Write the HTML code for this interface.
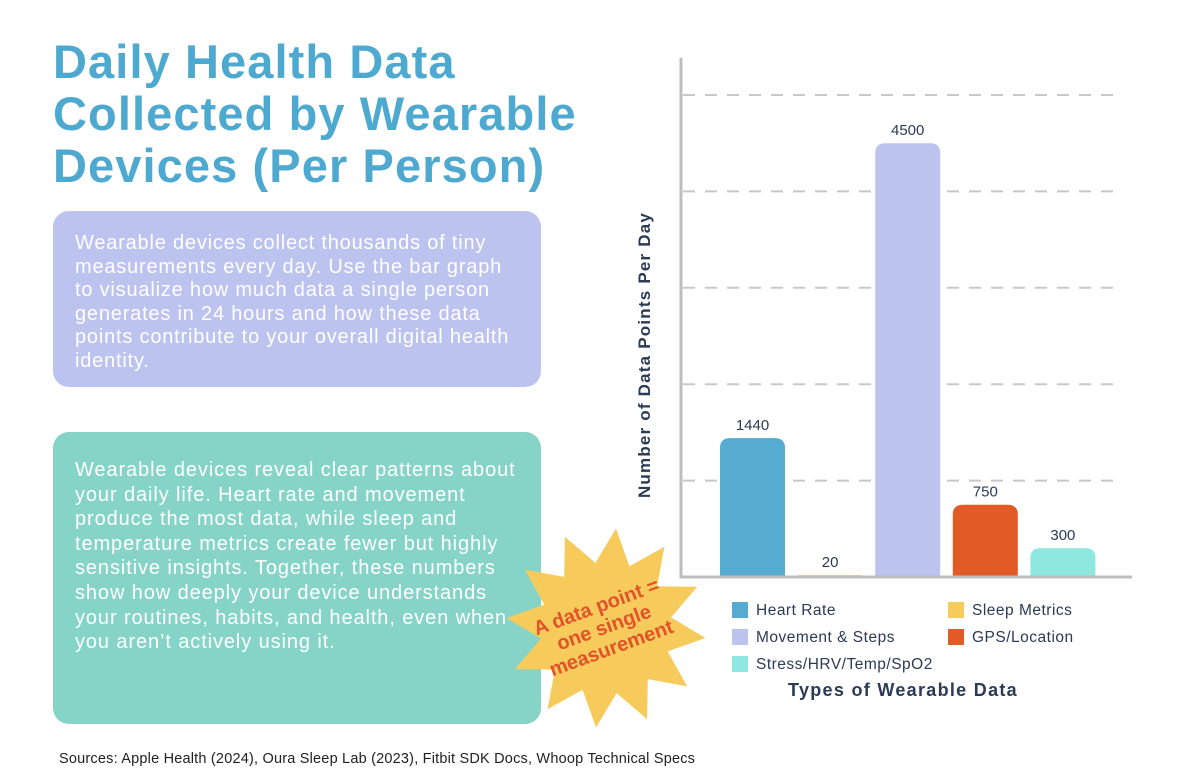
<!DOCTYPE html>
<html><head><meta charset="utf-8"><style>
body{margin:0;width:1200px;height:776px;background:#fff;font-family:"Liberation Sans",sans-serif;position:relative;overflow:hidden}
.title{position:absolute;left:53px;top:36px;font-size:47px;font-weight:bold;color:#4ea9d1;line-height:52px;letter-spacing:1.1px;white-space:nowrap}
.box{position:absolute;left:53px;width:488px;border-radius:16px;color:#fff;box-sizing:border-box;white-space:nowrap}
#b1{top:211px;height:176px;background:#bcc3ee;padding:21px 22px;font-size:20px;line-height:23.5px;letter-spacing:0.8px}
#b2{top:432px;height:292px;background:#86d3c7;padding:26px 22px;font-size:20px;line-height:24.6px;letter-spacing:0.9px}
.src{position:absolute;left:59px;top:751px;font-size:14.5px;color:#222;letter-spacing:0.2px}
</style></head><body>
<div class="title">Daily Health Data<br>Collected by Wearable<br>Devices (Per Person)</div>
<div class="box" id="b1">Wearable devices collect thousands of tiny<br>measurements every day. Use the bar graph<br>to visualize how much data a single person<br>generates in 24 hours and how these data<br>points contribute to your overall digital health<br>identity.</div>
<div class="box" id="b2">Wearable devices reveal clear patterns about<br>your daily life. Heart rate and movement<br>produce the most data, while sleep and<br>temperature metrics create fewer but highly<br>sensitive insights. Together, these numbers<br>show how deeply your device understands<br>your routines, habits, and health, even when<br>you aren’t actively using it.</div>
<div class="src">Sources: Apple Health (2024), Oura Sleep Lab (2023), Fitbit SDK Docs, Whoop Technical Specs</div>
<svg id="svg" width="1200" height="776" style="position:absolute;left:0;top:0">
<g>
<polygon id="star" fill="#f6cb5c"/>
<text transform="translate(604,628) rotate(-20)" text-anchor="middle" font-size="20" font-weight="bold" fill="#e2532a" font-family="Liberation Sans,sans-serif"><tspan x="0" y="-16">A data point =</tspan><tspan x="0" y="6">one single</tspan><tspan x="0" y="28">measurement</tspan></text>
</g>
</svg>
<script>
const categories=["Heart Rate","Sleep Metrics","Movement & Steps","GPS/Location","Stress/HRV/Temp/SpO2"];
const values=[1440,20,4500,750,300];
const colors=["#56abd0","#f6cb5c","#bcc3ee","#e25a26","#8ee8df"];
const gridTicks=[1000,2000,3000,4000,5000];
const NS="http://www.w3.org/2000/svg";
const svg=document.getElementById('svg');
let pts=[];for(let i=0;i<24;i++){const a=i*Math.PI/12-Math.PI/2+0.1;const r=i%2?66:100;pts.push((606+r*Math.cos(a)).toFixed(1)+','+(628+r*Math.sin(a)).toFixed(1));}
document.getElementById('star').setAttribute('points',pts.join(' '));
const x0=681,y0=577,k=0.0964;
const y=v=>y0-v*k;
const bx=i=>720+i*77.6;
function mk(t,a){const e=document.createElementNS(NS,t);for(const n in a)e.setAttribute(n,a[n]);svg.insertBefore(e,svg.lastChild);return e;}
gridTicks.forEach(t=>{const l=mk('line',{x1:683,x2:1122,y1:y(t),y2:y(t),stroke:'#c8c8c8','stroke-width':2,'stroke-dasharray':'12,10'});

});
values.forEach((v,i)=>{const h=v*k,r=Math.min(10,h/2);const X=bx(i),W=65,Y=y(v);
const p=mk('path',{d:`M${X},${y0}V${Y+r}Q${X},${Y} ${X+r},${Y}H${X+W-r}Q${X+W},${Y} ${X+W},${Y+r}V${y0}Z`,fill:colors[i]});


const t=mk('text',{x:X+W/2,y:Y-8,'text-anchor':'middle','font-size':15,fill:'#2b3a55'});t.textContent=v;

});
const ax=mk('path',{d:`M${x0},58V${y0}H1132`,fill:'none',stroke:'#bdbdbd','stroke-width':3});


const yt=mk('text',{transform:'translate(650,355) rotate(-90)','text-anchor':'middle','font-size':17,'font-weight':'bold',fill:'#2b3a55','letter-spacing':'1.2'});yt.textContent='Number of Data Points Per Day';


const xt=mk('text',{x:903,y:696,'text-anchor':'middle','font-size':18,'font-weight':'bold',fill:'#2b3a55','letter-spacing':'1.3'});xt.textContent='Types of Wearable Data';


const order=[[0,732,602],[1,948,602],[2,732,629],[3,948,629],[4,732,656]];
order.forEach(([i,lx,ly])=>{const r=mk('rect',{x:lx,y:ly,width:16,height:16,fill:colors[i]});


const t=mk('text',{x:lx+24,y:ly+13,'font-size':15.5,fill:'#2b3a55','letter-spacing':'0.5'});t.textContent=categories[i];

});
</script>
</body></html>
